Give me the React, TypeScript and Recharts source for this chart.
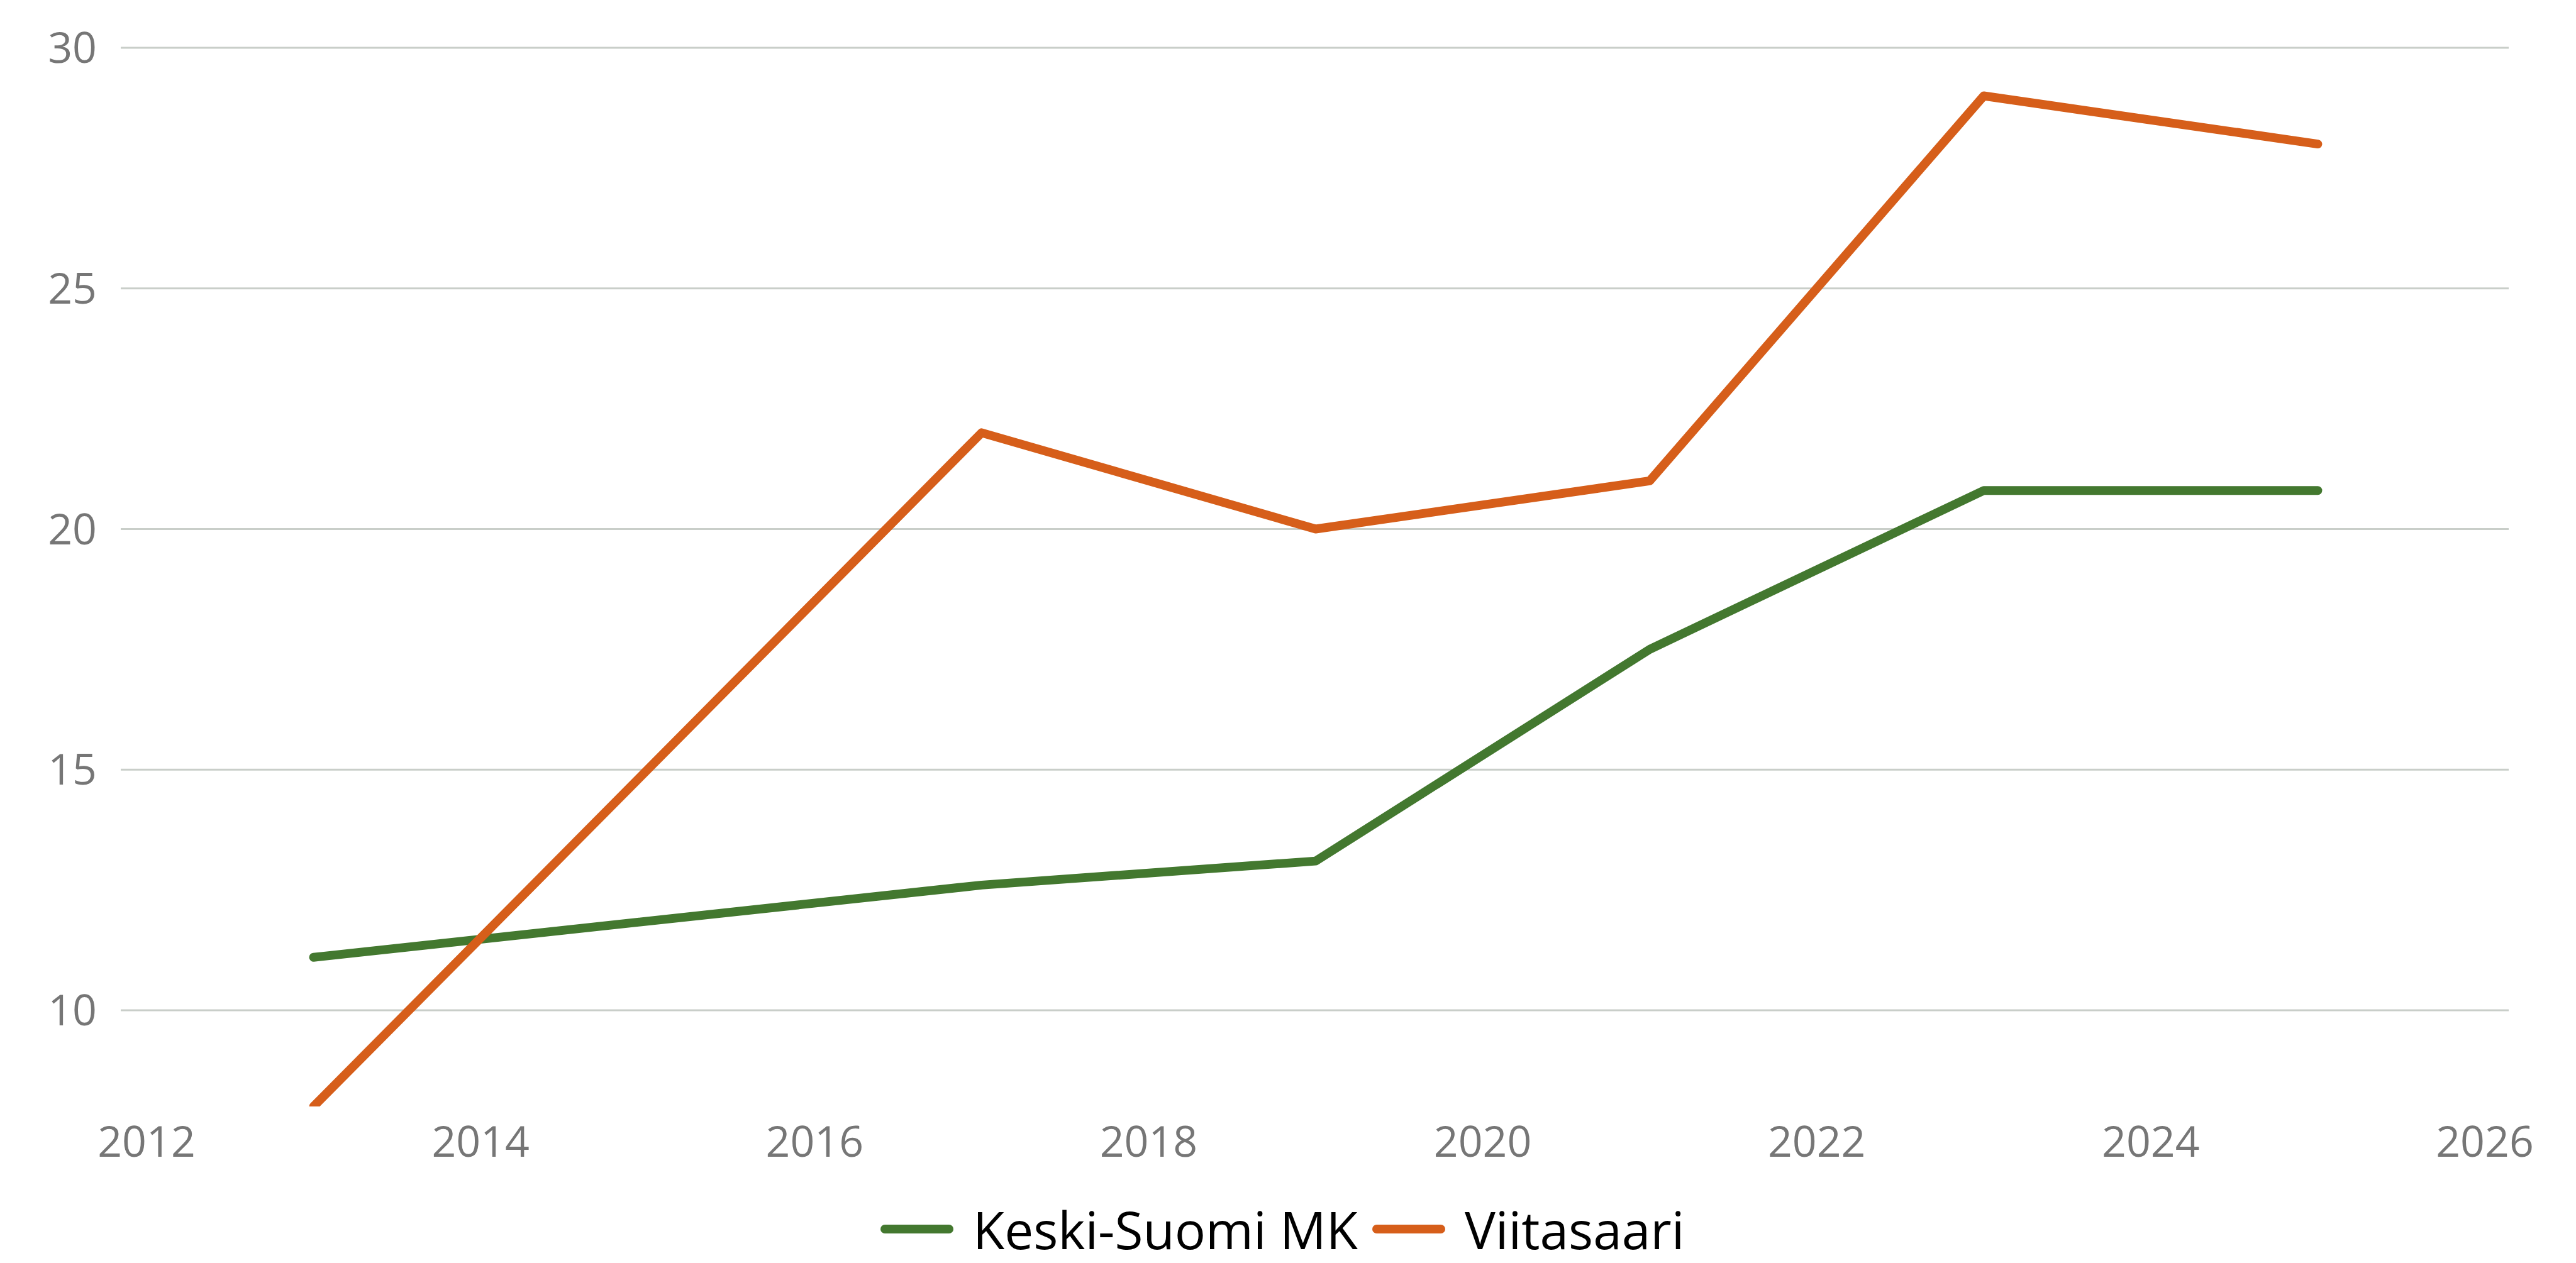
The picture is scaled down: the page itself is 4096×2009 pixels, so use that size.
import React from 'react';
import { LineChart, Line, XAxis, YAxis, CartesianGrid, Legend } from 'recharts';

const years = [2013, 2017, 2019, 2021, 2023, 2025];
const keskiSuomi = [11.1, 12.6, 13.1, 17.5, 20.8, 20.8];
const viitasaari = [8, 22, 20, 21, 29, 28];
const xTicks = [2012, 2014, 2016, 2018, 2020, 2022, 2024, 2026];
const yTicks = [10, 15, 20, 25, 30];
const yDomain = [8, 30];
const seriesNames = ['Keski-Suomi MK', 'Viitasaari'];
const seriesColors = ['#43782F', '#D65E1A'];

const data = years.map((y, i) => ({ year: y, ks: keskiSuomi[i], vs: viitasaari[i] }));

const FONT = '"Open Sans", "Noto Sans", sans-serif';

const gridYs = (p: any): number[] => {
  const s = p && p.yAxis ? p.yAxis.scale : null;
  if (typeof s === 'function') return yTicks.map((t) => s(t));
  if (s && typeof s.map === 'function') return yTicks.map((t) => s.map(t));
  const off = (p && p.offset) || {};
  const top = typeof off.top === 'number' ? off.top : 76;
  const h = typeof off.height === 'number' ? off.height : 1684;
  return yTicks.map((t) => top + ((yDomain[1] - t) / (yDomain[1] - yDomain[0])) * h);
};

const LegendContent = (props: any) => {
  const payload = props.payload || [];
  return (
    <div
      style={{
        height: 150,
        boxSizing: 'border-box',
        paddingTop: 60,
        paddingLeft: 1400,
        display: 'flex',
        alignItems: 'center',
        fontFamily: FONT,
        fontSize: 82,
        color: '#000',
      }}
    >
      {payload.map((p: any, i: number) => (
        <div key={i} style={{ display: 'flex', alignItems: 'center', marginRight: 23 }}>
          <svg width={116} height={20} style={{ marginRight: 31 }}>
            <line x1={7} y1={10} x2={109} y2={10} stroke={p.color} strokeWidth={14} strokeLinecap="round" />
          </svg>
          <span style={{ lineHeight: 1.1 }}>{p.value}</span>
        </div>
      ))}
    </div>
  );
};

export default function App() {
  return (
    <div style={{ position: 'absolute', left: 0, top: 0, width: 4096, height: 2009, background: '#fff' }}>
      <LineChart
        width={4096}
        height={2009}
        data={data}
        margin={{ top: 76, right: 107, left: 0, bottom: 9 }}
      >
        <CartesianGrid
          vertical={false}
          stroke="#C9CEC9"
          strokeWidth={3}
          horizontalCoordinatesGenerator={gridYs}
        />
        <XAxis
          dataKey="year"
          type="number"
          domain={[2012, 2026]}
          ticks={xTicks}
          padding={{ left: 41, right: 38 }}
          axisLine={false}
          tickLine={false}
          tickSize={0}
          tickMargin={32}
          height={90}
          interval={0}
          tick={{ fill: '#767676', fontSize: 68, fontFamily: FONT }}
        />
        <YAxis
          type="number"
          domain={yDomain}
          ticks={yTicks}
          allowDataOverflow
          axisLine={false}
          tickLine={false}
          tickSize={0}
          tickMargin={38}
          width={192}
          interval={0}
          tick={{ fill: '#767676', fontSize: 68, fontFamily: FONT }}
        />
        <Legend
          verticalAlign="bottom"
          align="left"
          content={<LegendContent />}
          wrapperStyle={{ left: 0, width: 4096 }}
        />
        <Line
          dataKey="ks"
          name={seriesNames[0]}
          stroke={seriesColors[0]}
          strokeWidth={14}
          strokeLinecap="round"
          strokeLinejoin="round"
          dot={false}
          activeDot={false}
          isAnimationActive={false}
        />
        <Line
          dataKey="vs"
          name={seriesNames[1]}
          stroke={seriesColors[1]}
          strokeWidth={14}
          strokeLinecap="round"
          strokeLinejoin="round"
          dot={false}
          activeDot={false}
          isAnimationActive={false}
        />
      </LineChart>
    </div>
  );
}
